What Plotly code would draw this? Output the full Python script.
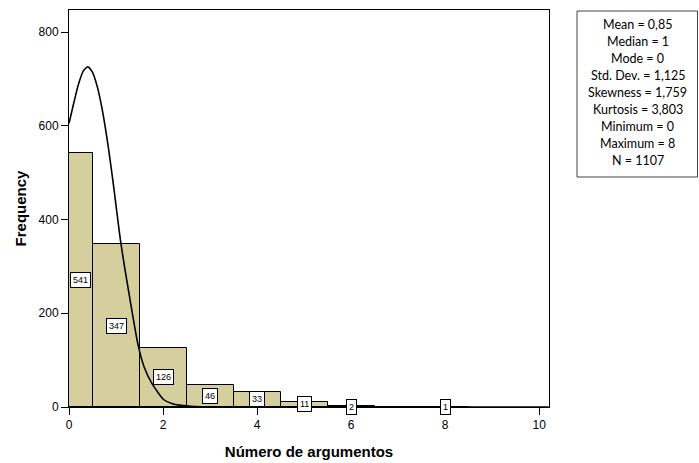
import plotly.graph_objects as go

# Histogram bins (centered on integers, width 1)
bin_centers = [0, 1, 2, 3, 4, 5, 6, 7, 8]
frequencies = [541, 347, 126, 46, 33, 11, 2, 0, 1]

# Normal curve points
curve_x = [0.0, 0.1, 0.2, 0.3, 0.4, 0.5, 0.6, 0.7, 0.84, 0.95, 1.10, 1.30, 1.47,
           1.60, 1.76, 2.01, 2.20, 2.43, 2.80, 3.50, 10.2]
curve_y = [605, 648, 688, 716, 726, 714, 684, 638, 552, 470, 352, 228, 132,
           85, 51, 16, 7, 3, 0.5, 0, 0]

stats_lines = ["Mean = 0,85", "Median = 1", "Mode = 0", "Std. Dev. = 1,125",
               "Skewness = 1,759", "Kurtosis = 3,803", "Minimum = 0",
               "Maximum = 8", "N = 1107"]

x_ticks = [0, 2, 4, 6, 8, 10]
y_ticks = [0, 200, 400, 600, 800]

XMIN, XMAX = 0, 10.21
YMIN, YMAX = 0, 847

W, H = 699, 463
PL, PR, PT, PB = 69, 549, 10, 407
PW, PH = PR - PL, PB - PT

fig = go.Figure()
fig.add_trace(go.Bar(
    x=bin_centers, y=frequencies, width=1,
    marker=dict(color="#D4CF9C", line=dict(color="black", width=1)),
    hoverinfo="x+y", showlegend=False))
fig.add_trace(go.Scatter(
    x=curve_x, y=curve_y, mode="lines",
    line=dict(color="black", width=1.6, shape="spline", smoothing=0.6),
    showlegend=False, hoverinfo="skip"))

annotations = []
for c, f in zip(bin_centers, frequencies):
    if f <= 0:
        continue
    left = max(c - 0.5, XMIN)
    right = c + 0.5
    annotations.append(dict(
        x=(left + right) / 2, y=f / 2, xref="x", yref="y",
        text=str(f), showarrow=False,
        font=dict(family="Liberation Sans, Arial", size=9, color="black"),
        bgcolor="white", bordercolor="black", borderwidth=1, borderpad=2))

# statistics box
for i, s in enumerate(stats_lines):
    ypx = 24.5 + 17 * i
    annotations.append(dict(
        x=(637.5 - PL) / PW, y=(PB - ypx) / PH, xref="paper", yref="paper",
        text=s, showarrow=False, xanchor="center", yanchor="middle",
        font=dict(family="Lato, Liberation Sans, Arial", size=12.5, color="black")))

fig.add_shape(type="rect", xref="paper", yref="paper",
              x0=(577 - PL) / PW, x1=(697.5 - PL) / PW,
              y0=(PB - 177) / PH, y1=(PB - 11) / PH,
              line=dict(color="#444444", width=1), fillcolor="white", layer="below")

fig.update_layout(
    width=W, height=H,
    margin=dict(l=PL, r=W - PR, t=PT, b=H - PB, autoexpand=False),
    paper_bgcolor="white", plot_bgcolor="white",
    bargap=0,
    annotations=annotations,
    font=dict(family="Liberation Sans, Arial", size=12, color="black"),
    xaxis=dict(range=[XMIN, XMAX], tickvals=x_ticks, showgrid=False, zeroline=False,
               showline=True, linecolor="black", linewidth=1, mirror=True,
               ticks="outside", ticklen=7, tickcolor="black", ticklabelstandoff=0,
               automargin=False,
               title=dict(text="<b>Número de argumentos</b>", font=dict(size=15), standoff=15)),
    yaxis=dict(range=[YMIN, YMAX], tickvals=y_ticks, showgrid=False, zeroline=False,
               showline=True, linecolor="black", linewidth=1, mirror=True,
               ticks="outside", ticklen=7, tickcolor="black", automargin=False,
               title=dict(text="<b>Frequency</b>", font=dict(size=15), standoff=8)),
)

fig.write_html("out.html", config={"displayModeBar": False},
               post_script="document.body.style.margin='0';document.body.style.overflow='hidden';")
